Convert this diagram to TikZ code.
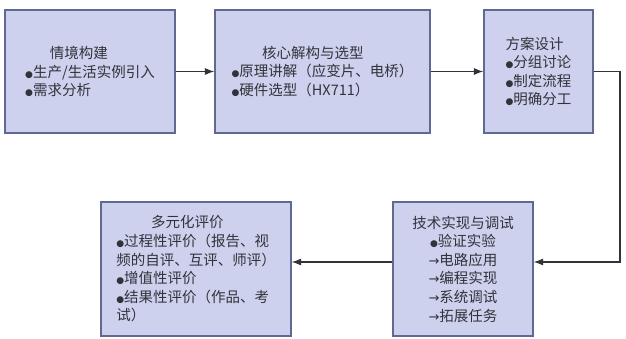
\documentclass[tikz,border=0pt]{standalone}
\usepackage{fontspec}
\setmainfont{Noto Sans CJK SC}
\newfontfamily\symfont{DejaVu Sans}
\usetikzlibrary{arrows.meta}

\definecolor{boxfill}{RGB}{205,209,238}
\definecolor{boxline}{RGB}{95,105,145}
\definecolor{txtgray}{RGB}{50,50,58}
\newcommand{\bul}{{\symfont\fontsize{9}{9}\selectfont ●}}
\newcommand{\arw}{{\symfont\fontsize{13}{12}\selectfont →}}

\tikzset{
  stagebox/.style={draw=boxline, fill=boxfill, line width=1.2pt, inner sep=0pt,
    text=txtgray, font=\fontsize{14.5}{18.6}\selectfont},
  arr/.style={draw=txtgray, line width=1.1pt, -{Latex[length=9.5pt,width=7pt]}}
}

\begin{document}
\begin{tikzpicture}[x=1pt, y=-1pt]

  \useasboundingbox (0,0) rectangle (626,339);

  % Situation box
  \node[stagebox, minimum width=170pt, minimum height=123pt, align=left] (situ) at (90,71.5)
    {\hspace*{1.7em}情境构建\\ \bul 生产/生活实例引入\\ \bul 需求分析};

  % Core analysis box
  \node[stagebox, minimum width=215pt, minimum height=123pt, align=left] (core) at (322.5,71.5)
    {\hspace*{2.1em}核心解构与选型\\ \bul 原理讲解（应变片、电桥）\\ \bul 硬件选型（HX711）};

  % Plan design box
  \node[stagebox, minimum width=109pt, minimum height=123pt, align=left] (plan) at (538.5,71.5)
    {方案设计\\ \bul 分组讨论\\ \bul 制定流程\\ \bul 明确分工};

  % Implementation box
  \node[stagebox, minimum width=140pt, minimum height=134pt, align=center] (impl) at (463,269)
    {技术实现与调试\\ \bul 验证实验\\ \arw 电路应用\\ \arw 编程实现\\ \arw 系统调试\\ \arw 拓展任务};

  % Evaluation box
  \node[stagebox, minimum width=190pt, minimum height=134pt, align=left] (eval) at (196,269)
    {\hspace*{2.4em}多元化评价\\ \bul 过程性评价（报告、视\\ 频的自评、互评、师评）\\ \bul 增值性评价\\ \bul 结果性评价（作品、考\\ 试）};

  % Connectors
  \coordinate (turn) at (620,262);
  \draw[arr] (situ.east) -- (core.west);
  \draw[arr] (core.east) -- (plan.west);
  \draw[arr] (plan.east) -| (turn) -- (turn -| impl.east);
  \draw[arr] (turn -| impl.west) -- (turn -| eval.east);

\end{tikzpicture}
\end{document}
